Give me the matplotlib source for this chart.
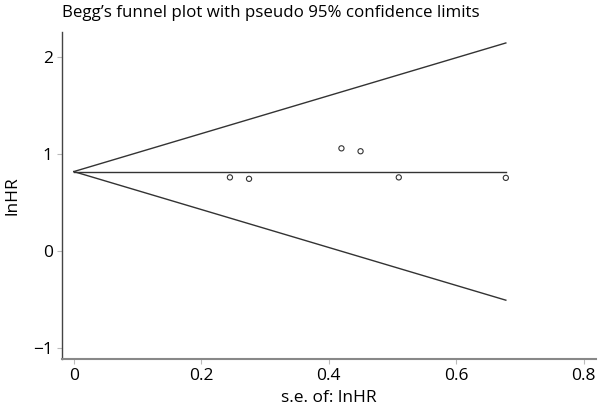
import numpy as np
import matplotlib.pyplot as plt

plt.rcParams['font.family'] = ['Open Sans', 'DejaVu Sans']

# study data
se_lnhr = [0.245, 0.275, 0.420, 0.450, 0.510, 0.678]
lnhr = [0.760, 0.745, 1.060, 1.030, 0.760, 0.755]
pooled = 0.82

se_line = np.array([0.0, max(se_lnhr)])
upper = pooled + 1.96 * se_line
lower = pooled - 1.96 * se_line

fig = plt.figure(figsize=(6.02, 4.08), dpi=100)
ax = fig.add_axes([0.1025, 0.12, 0.887, 0.802])

ax.plot(se_line, upper, color='#333333', lw=1.0)
ax.plot(se_line, lower, color='#333333', lw=1.0)
ax.plot(se_line, [pooled, pooled], color='#333333', lw=1.0)
ax.scatter(se_lnhr, lnhr, s=14, facecolors='none', edgecolors='#333333', linewidths=0.8, zorder=3)

ax.set_xlim(-0.019, 0.819)
ax.set_ylim(-1.117, 2.264)
ax.set_xticks([0, 0.2, 0.4, 0.6, 0.8])
ax.set_xticklabels(['0', '0.2', '0.4', '0.6', '0.8'])
ax.set_yticks([-1, 0, 1, 2])
ax.set_yticklabels(['\u22121', '0', '1', '2'])

for s in ['top', 'right']:
    ax.spines[s].set_visible(False)
ax.spines['left'].set_color('#444444')
ax.spines['left'].set_linewidth(1.0)
ax.spines['bottom'].set_color('#888888')
ax.spines['bottom'].set_linewidth(1.5)
ax.tick_params(length=3.5, width=0.8, color='#bbbbbb', labelsize=12.5, pad=3)

ax.set_xlabel('s.e. of: lnHR', fontsize=12.5, labelpad=4)
ax.set_ylabel('lnHR', fontsize=12.5, labelpad=9)
fig.text(0.103, 0.967, 'Begg\u2019s funnel plot with pseudo 95% confidence limits',
         fontsize=12.2, ha='left', va='center')

fig.savefig('out.png', dpi=100)
